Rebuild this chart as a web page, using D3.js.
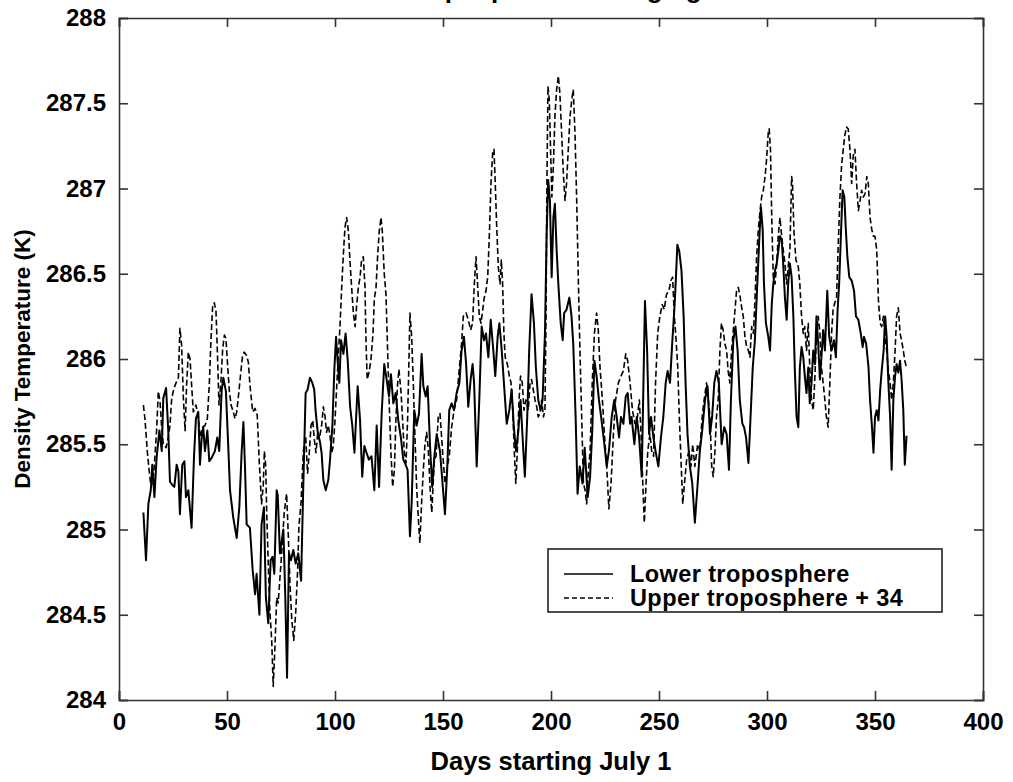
<!DOCTYPE html>
<html>
<head>
  <title>Density Temperature</title>
  <script src="https://d3js.org/d3.v7.min.js"></script>
  <style>
    body { margin: 0; background: #fff; }
    svg text { font-family: Arial, "Liberation Sans", sans-serif; font-weight: bold; fill: #000; }
    .axis path, .axis line { stroke: #333; stroke-width: 1.6; }
    .line { fill: none; stroke: #000; stroke-linejoin: round; }
  </style>
</head>
<body>
  <div id="chart"></div>
  <script>
    // Lower troposphere (solid line): day, temperature (K)
    const lowerDays = [11.3,12.5,13.6,14.7,15.4,16.4,17.4,18.7,19.8,20.5,21.8,22.8,23.6,24.8,25.6,26.7,27.5,28.2,29.3,30.3,31.0,32.1,33.6,34.7,35.6,36.7,37.5,38.3,39.0,39.8,40.9,41.8,42.9,44.4,45.5,46.4,47.5,48.3,49.5,50.6,51.4,52.9,54.5,55.7,56.8,57.6,58.3,59.1,60.6,61.9,63.0,63.7,65.0,66.0,67.1,68.0,69.1,70.2,71.1,71.9,73.0,
      73.5,74.5,76.1,77.0,77.8,78.7,79.6,80.7,81.8,83.0,84.3,85.3,86.4,87.3,88.4,89.5,90.4,91.0,92.0,93.1,93.8,94.6,95.7,96.9,97.7,98.8,99.7,100.5,101.2,102.0,102.8,103.9,104.9,105.9,107.0,108.0,109.0,109.6,110.5,111.6,112.6,113.6,114.6,115.7,116.9,118.2,119.3,120.4,121.6,122.8,123.9,125.0,125.9,127.0,128.1,129.3,130.6,131.6,132.4,133.6,134.7,135.5,136.7,137.8,138.9,140.1,140.9,142.0,142.9,144.0,145.0,146.0,
      147.1,148.6,149.8,150.9,152.0,152.9,154.0,155.1,156.3,157.6,158.6,159.7,160.7,161.7,162.8,163.7,164.4,165.6,166.8,167.9,169.0,169.9,171.0,172.1,173.3,174.2,175.3,176.1,177.2,178.2,179.5,180.7,181.8,182.8,183.8,184.9,185.9,187.2,187.9,189.0,189.9,191.0,192.1,193.0,194.1,195.2,196.1,197.2,198.0,198.7,199.5,200.3,201.1,201.8,202.6,203.4,204.5,205.4,206.1,207.2,208.5,209.5,210.3,211.4,212.3,213.3,214.6,215.6,
      217.0,218.1,219.1,220.1,221.1,222.2,223.4,224.7,225.8,226.8,228.1,229.3,230.4,231.5,232.4,233.5,234.6,235.5,236.6,237.3,238.6,239.7,240.8,242.0,242.8,243.5,244.5,245.4,246.3,247.4,248.4,249.7,250.9,252.0,253.1,254.0,255.1,256.1,257.1,257.7,258.5,259.4,260.4,261.4,262.3,263.2,264.3,265.4,266.6,267.9,268.9,270.0,271.3,272.5,273.6,274.6,275.6,276.6,277.7,279.0,280.2,281.3,282.4,283.3,284.4,285.4,286.4,
      287.4,288.6,289.4,290.3,291.4,292.1,293.4,294.4,295.5,296.5,297.2,298.0,298.6,299.5,300.6,301.4,302.2,302.9,303.7,304.5,305.2,306.0,306.8,307.5,308.3,309.1,309.8,310.6,311.4,312.2,312.9,313.7,314.5,315.2,316.0,316.8,317.5,318.3,319.1,319.8,320.6,321.4,322.2,322.9,323.7,324.5,325.2,326.0,326.8,327.9,328.8,329.9,331.0,331.9,332.7,333.4,334.2,335.0,335.8,336.5,337.2,338.1,339.2,340.3,341.2,342.3,343.4,344.3,344.9,345.9,347.0,347.7,348.5,349.3,350.0,350.8,351.6,352.4,353.1,354.0,354.7,355.4,356.2,357.0,357.7,358.5,359.3,360.0,360.8,361.6,362.3,363.1,363.8,364.6];
    const lowerTemp = [285.10,284.82,285.15,285.23,285.38,285.19,285.42,285.58,285.46,285.77,285.83,285.58,285.28,285.26,285.25,285.38,285.34,285.09,285.38,285.40,285.19,285.23,285.01,285.42,285.65,285.69,285.38,285.54,285.60,285.46,285.58,285.40,285.42,285.46,285.54,285.46,285.81,285.89,285.81,285.48,285.23,285.07,284.95,285.13,285.46,285.63,285.38,285.03,285.01,284.76,284.62,284.74,284.50,285.03,285.13,284.60,284.45,284.82,284.84,284.74,285.23,
      285.20,284.86,285.00,284.60,284.13,284.86,284.82,284.88,284.80,284.86,284.70,285.25,285.80,285.82,285.89,285.86,285.82,285.70,285.57,285.51,285.45,285.29,285.23,285.29,285.41,285.61,285.94,286.13,285.99,285.86,286.11,286.03,286.15,285.99,285.72,285.61,285.45,285.61,285.84,285.64,285.31,285.49,285.45,285.41,285.43,285.23,285.61,285.25,285.68,285.97,285.88,285.78,285.91,285.74,285.80,285.64,285.53,285.41,285.39,285.35,284.96,285.16,285.70,285.61,285.68,286.03,285.84,285.78,285.84,285.49,285.25,285.43,
      285.56,285.46,285.27,285.09,285.37,285.70,285.74,285.70,285.80,285.86,286.05,286.13,285.97,285.72,285.88,285.97,285.86,285.37,285.76,286.19,286.11,286.15,286.01,286.23,286.05,285.90,286.13,286.21,286.05,285.86,285.62,285.70,285.82,285.60,285.46,285.58,285.76,285.46,285.31,285.66,286.05,286.38,286.21,285.95,285.76,285.70,285.76,286.15,286.74,287.05,286.93,286.48,286.83,286.91,286.64,286.44,286.21,286.11,286.27,286.29,286.36,286.25,286.09,285.66,285.21,285.37,285.27,285.48,
      285.19,285.31,285.58,285.99,285.90,285.76,285.64,285.50,285.37,285.46,285.66,285.76,285.66,285.54,285.66,285.62,285.78,285.80,285.62,285.66,285.50,285.66,285.54,285.31,285.86,286.34,286.05,285.56,285.66,285.54,285.46,285.37,285.54,285.66,285.86,285.93,285.86,286.09,286.29,286.44,286.67,286.63,286.52,286.25,285.86,285.56,285.37,285.27,285.04,285.27,285.46,285.58,285.76,285.84,285.56,285.66,285.86,285.93,285.86,285.50,285.60,285.56,285.35,285.76,286.11,286.19,286.05,
      285.76,285.62,285.60,285.54,285.39,285.58,285.95,286.11,286.44,286.72,286.89,286.76,286.44,286.21,286.13,286.05,286.32,286.44,286.52,286.56,286.63,286.72,286.70,286.56,286.36,286.23,286.44,286.56,286.48,286.25,285.93,285.66,285.60,285.95,286.07,286.01,285.90,285.80,285.95,285.74,285.86,286.05,285.97,286.25,286.09,285.88,286.01,286.17,286.05,286.40,286.13,286.05,286.11,286.01,286.29,286.44,286.72,286.99,286.95,286.76,286.60,286.48,286.46,286.40,286.25,286.23,286.15,286.07,286.13,286.09,285.95,285.76,285.62,285.45,285.66,285.70,285.64,285.82,285.93,286.05,286.25,286.13,285.86,285.66,285.35,285.76,285.90,285.97,285.92,285.99,285.88,285.70,285.38,285.55];

    // Upper troposphere + 34 (dashed line): day, temperature (K)
    const upperDays = [11.3,12.0,13.1,14.0,14.8,15.9,16.7,17.4,18.2,19.0,19.7,20.5,21.8,22.8,23.6,24.4,25.5,26.4,27.5,28.2,29.0,29.8,30.6,31.3,32.1,32.9,33.6,34.4,35.6,36.7,37.5,38.7,39.8,40.9,41.8,42.6,43.4,44.1,44.9,45.5,46.3,47.1,48.0,48.8,49.5,50.3,51.1,51.9,52.9,53.7,54.5,55.2,56.3,57.2,58.0,59.1,59.9,60.6,61.9,63.0,64.0,65.0,66.0,66.8,67.3,67.9,68.4,69.1,69.9,70.7,71.4,72.2,73.0,73.7,
      75.3,76.5,77.6,78.4,79.2,80.0,80.9,81.8,82.7,83.3,84.3,85.3,86.4,87.3,88.1,88.9,89.7,90.4,91.2,92.0,92.7,93.8,94.6,95.4,96.1,96.9,97.7,98.5,99.2,100.0,100.8,101.6,102.3,103.1,103.9,104.6,105.4,106.2,106.9,107.7,108.5,109.3,110.0,110.8,111.6,112.3,113.1,113.9,114.3,114.9,115.7,116.6,117.6,118.2,119.0,119.8,120.5,121.3,121.9,122.8,123.6,124.4,125.1,125.9,126.7,127.5,128.1,128.9,129.6,130.6,131.3,132.1,132.9,133.6,134.3,134.7,135.5,136.3,137.0,137.8,138.6,139.3,140.1,140.9,141.6,142.4,143.2,144.0,144.8,146.0,
      146.8,147.8,148.6,149.8,150.9,152.0,152.9,154.0,155.1,156.3,157.6,158.6,159.4,160.7,161.7,162.8,163.7,164.5,165.3,166.0,166.8,167.6,168.4,169.1,169.9,170.7,171.5,172.2,173.0,173.6,174.2,174.8,175.6,176.4,177.0,177.6,178.2,178.8,179.8,180.7,181.5,182.3,183.0,183.7,184.4,185.2,185.9,186.7,187.5,188.4,189.5,190.3,191.0,191.8,192.6,193.4,194.1,194.9,195.7,196.5,197.2,197.7,198.1,198.6,199.2,199.8,200.4,201.1,201.8,202.6,203.4,204.1,204.9,205.7,206.5,207.2,208.0,208.8,209.6,210.3,211.1,211.9,212.7,213.4,214.2,215.0,215.8,216.5,
      217.0,218.1,219.1,220.1,221.1,221.9,222.7,223.8,224.7,225.8,226.8,227.8,228.9,229.9,231.2,232.4,233.5,234.6,235.5,236.6,237.7,238.9,240.0,240.9,241.7,242.5,243.2,244.0,244.8,245.8,246.6,247.5,248.4,249.4,250.4,251.5,252.4,253.5,254.6,255.5,256.3,257.1,257.7,258.7,259.4,260.3,261.0,261.8,262.8,263.9,264.8,265.6,266.6,267.9,268.9,270.0,270.9,272.0,272.8,273.6,274.4,275.1,275.9,276.6,277.4,278.2,278.9,279.7,280.5,281.3,282.0,282.8,283.6,284.4,285.2,285.9,286.7,
      287.5,288.3,289.0,289.8,290.6,291.4,292.1,292.9,293.7,294.4,295.2,296.0,296.8,297.5,298.3,299.1,299.8,300.6,301.0,301.6,302.2,302.9,303.7,304.5,305.2,306.0,306.8,307.5,308.3,309.1,309.8,310.6,311.4,311.8,312.5,313.4,314.5,315.2,316.0,316.8,317.5,318.3,319.1,319.8,320.6,321.4,322.2,322.9,323.7,324.5,325.2,326.0,326.8,327.5,328.3,329.1,329.9,330.6,331.4,332.2,332.9,333.7,334.5,335.3,336.0,336.8,337.6,338.4,339.2,339.9,340.7,341.5,342.3,343.1,343.8,344.6,345.4,346.2,346.9,347.7,348.5,349.3,350.0,350.8,351.6,352.4,353.1,353.9,354.7,355.4,356.2,357.0,357.7,358.5,359.3,360.0,360.8,361.6,362.3,363.1,363.8,364.6];
    const upperTemp = [285.73,285.65,285.46,285.34,285.25,285.30,285.44,285.58,285.81,285.75,285.61,285.50,285.48,285.54,285.61,285.77,285.83,285.86,285.89,286.18,286.08,285.77,285.58,285.85,286.04,286.00,285.85,285.69,285.73,285.67,285.54,285.60,285.61,285.65,285.85,286.12,286.32,286.33,286.28,286.06,285.73,285.85,286.06,286.14,286.12,285.96,285.81,285.73,285.69,285.65,285.69,285.77,285.91,286.02,286.04,286.02,285.98,285.85,285.69,285.71,285.67,285.38,285.15,285.26,285.46,285.38,285.09,284.80,284.51,284.35,284.08,284.31,284.60,284.57,
      284.86,285.10,285.21,284.96,284.67,284.47,284.35,284.51,284.76,285.02,285.16,285.45,285.55,285.33,285.45,285.61,285.64,285.53,285.45,285.57,285.53,285.61,285.72,285.66,285.57,285.61,285.55,285.45,285.49,285.64,285.84,286.03,286.19,286.42,286.62,286.77,286.83,286.75,286.58,286.42,286.27,286.19,286.31,286.42,286.48,286.58,286.60,286.42,286.13,285.88,285.92,285.99,286.15,286.35,286.42,286.62,286.75,286.83,286.75,286.50,286.38,286.03,285.74,285.45,285.25,285.35,285.61,285.84,285.94,285.80,285.64,285.45,285.39,285.64,286.03,286.27,286.13,285.84,285.55,285.25,285.06,284.92,285.16,285.35,285.49,285.57,285.47,285.25,285.10,285.41,
      285.43,285.66,285.68,285.46,285.27,285.37,285.43,285.60,285.70,285.76,285.95,286.09,286.25,286.27,286.23,286.17,286.21,286.44,286.60,286.44,286.25,286.21,286.29,286.36,286.40,286.48,286.74,287.03,287.21,287.23,287.03,286.80,286.54,286.44,286.58,286.44,286.15,286.01,285.97,285.90,285.86,285.70,285.46,285.27,285.46,285.76,285.90,285.86,285.70,285.76,285.70,285.86,285.88,285.82,285.76,285.72,285.66,285.68,285.76,285.66,285.70,286.25,287.03,287.60,287.52,287.23,286.95,287.13,287.42,287.58,287.66,287.56,287.33,287.09,286.93,287.03,287.23,287.42,287.52,287.58,287.33,286.93,286.44,286.05,285.66,285.27,285.23,285.15,
      285.29,285.46,285.86,286.15,286.27,286.17,285.95,285.76,285.56,285.37,285.12,285.27,285.56,285.76,285.86,285.90,285.93,286.03,285.99,285.86,285.70,285.62,285.66,285.76,285.56,285.27,285.04,285.27,285.46,285.56,285.46,285.43,285.86,286.15,286.25,286.32,286.29,286.38,286.40,286.46,286.48,286.25,286.15,285.95,285.66,285.37,285.15,285.27,285.41,285.46,285.37,285.50,285.37,285.50,285.46,285.66,285.76,285.86,285.76,285.66,285.37,285.31,285.46,285.66,285.76,286.05,286.21,286.17,286.09,286.05,285.93,285.86,286.05,286.17,286.29,286.40,286.42,
      286.37,286.30,286.25,286.13,286.07,286.05,286.01,286.19,286.15,286.34,286.60,286.76,286.87,286.95,286.99,287.07,287.17,287.33,287.35,287.23,286.83,286.48,286.44,286.56,286.72,286.83,286.72,286.64,286.56,286.44,286.54,286.64,287.07,287.03,286.74,286.58,286.54,286.44,286.25,286.15,286.19,286.05,286.21,285.95,285.76,285.70,285.90,286.15,286.25,286.15,285.95,285.86,285.76,285.66,285.60,285.86,286.15,286.29,286.33,286.36,286.64,286.93,287.13,287.23,287.31,287.36,287.35,287.23,287.03,287.19,287.23,287.03,286.87,286.93,286.99,286.95,286.97,287.07,287.03,286.83,286.76,286.72,286.72,286.64,286.34,286.21,286.19,286.25,286.13,286.05,285.93,285.86,285.76,285.86,286.05,286.25,286.30,286.15,286.11,286.05,285.99,285.95];

    const xTicks = [0, 50, 100, 150, 200, 250, 300, 350, 400];
    const yTicks = [284, 284.5, 285, 285.5, 286, 286.5, 287, 287.5, 288];
    const seriesNames = ["Lower troposphere", "Upper troposphere + 34"];

    const W = 1013, H = 782;
    const plotLeft = 119, plotRight = 983, plotTop = 18, plotBottom = 700;

    const svg = d3.select("#chart").append("svg")
      .attr("width", W)
      .attr("height", H);

    const x = d3.scaleLinear().domain([0, 400]).range([plotLeft, plotRight]);
    const y = d3.scaleLinear().domain([284, 288]).range([plotBottom, plotTop]);

    // title sits above the top edge, only its descenders show
    svg.append("text")
      .attr("x", 553)
      .attr("y", -2)
      .attr("text-anchor", "middle")
      .style("font-size", "26px")
      .text("Tropospheric Averaging");

    // axes with inward ticks on all four sides (box style)
    svg.append("g").attr("class", "axis")
      .attr("transform", "translate(0," + plotBottom + ")")
      .call(d3.axisBottom(x).tickValues(xTicks).tickSize(-9).tickPadding(13).tickFormat(d3.format("d")))
      .call(g => g.selectAll("text").style("font-size", "24px"));

    svg.append("g").attr("class", "axis")
      .attr("transform", "translate(" + plotLeft + ",0)")
      .call(d3.axisLeft(y).tickValues(yTicks).tickSize(-9).tickPadding(13).tickFormat(d => d3.format("")(d)))
      .call(g => g.selectAll("text").style("font-size", "24px"));

    svg.append("g").attr("class", "axis")
      .attr("transform", "translate(0," + plotTop + ")")
      .call(d3.axisTop(x).tickValues(xTicks).tickSize(-9).tickFormat(""));

    svg.append("g").attr("class", "axis")
      .attr("transform", "translate(" + plotRight + ",0)")
      .call(d3.axisRight(y).tickValues(yTicks).tickSize(-9).tickFormat(""));

    // axis titles
    svg.append("text")
      .attr("x", (plotLeft + plotRight) / 2)
      .attr("y", 770)
      .attr("text-anchor", "middle")
      .style("font-size", "25.5px")
      .text("Days starting July 1");

    svg.append("text")
      .attr("transform", "translate(30," + (plotTop + plotBottom) / 2 + ") rotate(-90)")
      .attr("text-anchor", "middle")
      .style("font-size", "22.5px")
      .text("Density Temperature (K)");

    // lines
    const line = d3.line().x(d => x(d[0])).y(d => y(d[1]));
    const lower = d3.zip(lowerDays, lowerTemp);
    const upper = d3.zip(upperDays, upperTemp);

    svg.append("path").datum(lower)
      .attr("class", "line")
      .attr("stroke-width", 2)
      .attr("d", line);

    svg.append("path").datum(upper)
      .attr("class", "line")
      .attr("stroke-width", 1.6)
      .attr("stroke-dasharray", "6,3")
      .attr("d", line);

    // legend
    const lg = svg.append("g");
    lg.append("rect")
      .attr("x", 548).attr("y", 549)
      .attr("width", 394).attr("height", 63)
      .attr("fill", "#fff")
      .attr("stroke", "#222")
      .attr("stroke-width", 1.6);

    seriesNames.forEach((name, i) => {
      const ly = 574 + i * 24;
      lg.append("line")
        .attr("x1", 564).attr("x2", 613)
        .attr("y1", ly).attr("y2", ly)
        .attr("stroke", "#000")
        .attr("stroke-width", i === 0 ? 1.6 : 1.3)
        .attr("stroke-dasharray", i === 0 ? null : "5,3");
      lg.append("text")
        .attr("x", 630).attr("y", ly + 8)
        .style("font-size", "23.5px")
        .style("letter-spacing", "0.4px")
        .text(name);
    });
  </script>
</body>
</html>
